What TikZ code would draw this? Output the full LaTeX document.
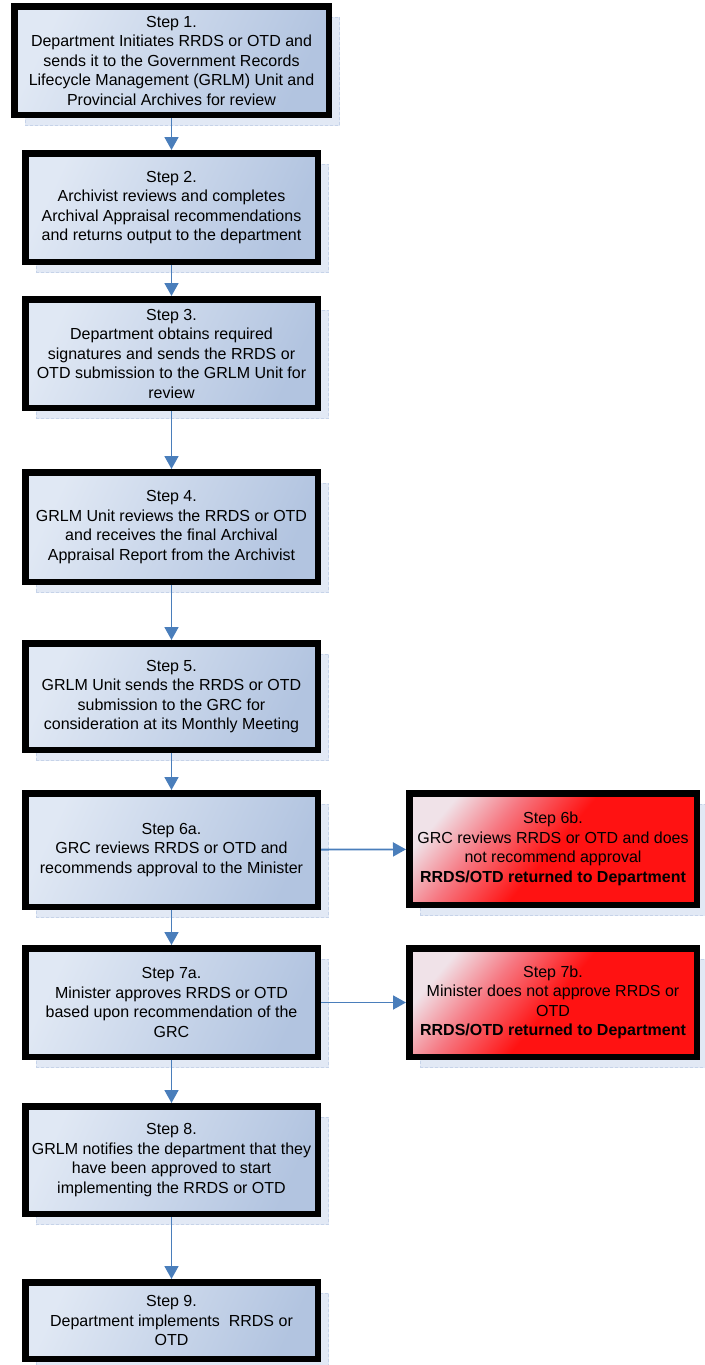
\documentclass[tikz,border=0pt]{standalone}
\usepackage{fontspec}
\setmainfont{Liberation Sans}
\usetikzlibrary{arrows.meta,shadows}

\definecolor{arrowblue}{RGB}{74,126,187}
\definecolor{shadowfill}{RGB}{226,233,245}
\definecolor{shadowline}{RGB}{198,211,233}
\definecolor{boxlight}{RGB}{224,232,244}
\definecolor{boxdark}{RGB}{178,196,224}
\definecolor{redlight}{RGB}{240,226,232}
\definecolor{redmid}{RGB}{246,120,130}
\definecolor{reddark}{RGB}{255,18,18}

\pgfdeclarehorizontalshading{bluefade}{100bp}{color(0bp)=(boxlight); color(25bp)=(boxlight); color(75bp)=(boxdark); color(100bp)=(boxdark)}
\pgfdeclarehorizontalshading{redfade}{100bp}{color(0bp)=(redlight); color(24bp)=(redlight); color(36bp)=(redmid); color(50bp)=(reddark); color(100bp)=(reddark)}

\tikzset{
  stepbox/.style={draw=black, line width=6.5pt, shading=bluefade, shading angle=-25,
    align=center, inner sep=0pt, text=black,
    font=\fontsize{16}{19.5}\selectfont,
    general shadow={shadow xshift=11pt, shadow yshift=-11pt, fill=shadowfill,
      draw=shadowline, line width=1pt, densely dashed}},
  rejectbox/.style={stepbox, shading=redfade, shading angle=-40},
  flow/.style={draw=arrowblue, line width=1.8pt, -{Triangle[width=14pt,length=13pt]}}
}

\begin{document}
\begin{tikzpicture}[x=1pt,y=-1pt]
\useasboundingbox (0,0) rectangle (704,1365);

\node[stepbox, minimum width=314.5pt, minimum height=108.5pt] (s1) at (171.5,60.5)
  {Step 1.\\Department Initiates RRDS or OTD and\\sends it to the Government Records\\Lifecycle Management (GRLM) Unit and\\Provincial Archives for review};
\node[stepbox, minimum width=292.5pt, minimum height=108.5pt] (s2) at (171.5,207.5)
  {Step 2.\\Archivist reviews and completes\\Archival Appraisal recommendations\\and returns output to the department};
\node[stepbox, minimum width=292.5pt, minimum height=108.5pt] (s3) at (171.5,353.5)
  {Step 3.\\Department obtains required\\signatures and sends the RRDS or\\OTD submission to the GRLM Unit for\\review};
\node[stepbox, minimum width=292.5pt, minimum height=109.5pt] (s4) at (171.5,527)
  {Step 4.\\GRLM Unit reviews the RRDS or OTD\\and receives the final Archival\\Appraisal Report from the Archivist};
\node[stepbox, minimum width=292.5pt, minimum height=106.5pt] (s5) at (171.5,696.5)
  {Step 5.\\GRLM Unit sends the RRDS or OTD\\submission to the GRC for\\consideration at its Monthly Meeting};
\node[stepbox, minimum width=292.5pt, minimum height=113.5pt] (s6a) at (171.5,850)
  {Step 6a.\\GRC reviews RRDS or OTD and\\recommends approval to the Minister};
\node[rejectbox, minimum width=287.5pt, minimum height=111.5pt] (s6b) at (553,849)
  {Step 6b.\\GRC reviews RRDS or OTD and does\\not recommend approval\\\textbf{RRDS/OTD returned to Department}};
\node[stepbox, minimum width=292.5pt, minimum height=108.5pt] (s7a) at (171.5,1002.5)
  {Step 7a.\\Minister approves RRDS or OTD\\based upon recommendation of the\\GRC};
\node[rejectbox, minimum width=287.5pt, minimum height=108.5pt] (s7b) at (553,1002.5)
  {Step 7b.\\Minister does not approve RRDS or\\OTD\\\textbf{RRDS/OTD returned to Department}};
\node[stepbox, minimum width=292.5pt, minimum height=107.5pt] (s8) at (171.5,1160)
  {Step 8.\\GRLM notifies the department that they\\have been approved to start\\implementing the RRDS or OTD};
\node[stepbox, minimum width=292.5pt, minimum height=76.5pt] (s9) at (171.5,1320.5)
  {Step 9.\\Department implements\ \ RRDS or\\OTD};

\draw[flow] (s1) -- (s2);
\draw[flow] (s2) -- (s3);
\draw[flow] (s3) -- (s4);
\draw[flow] (s4) -- (s5);
\draw[flow] (s5) -- (s6a);
\draw[flow] (s6a) -- (s7a);
\draw[flow] (s7a) -- (s8);
\draw[flow] (s8) -- (s9);
\draw[flow] (s6a) -- (s6b);
\draw[flow] (s7a) -- (s7b);
\end{tikzpicture}
\end{document}
